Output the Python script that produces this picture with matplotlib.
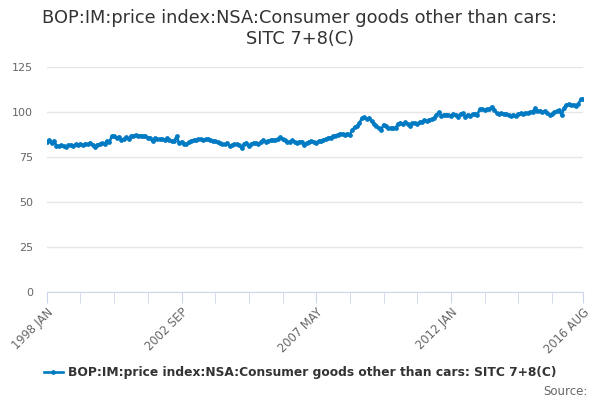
import numpy as np
import matplotlib
matplotlib.use('Agg')
import matplotlib.pyplot as plt

# monthly values, 1998 JAN .. 2016 AUG
values = [
    83.5, 84.5, 82.7, 84.0, 81.3, 81.2, 81.4, 81.0, 80.5, 81.6, 81.8, 81.2,   # 1998
    82.0, 81.5, 82.3, 81.6, 82.5, 82.0, 83.0, 81.8, 80.4, 81.8, 82.1, 82.6,   # 1999
    82.3, 84.0, 83.2, 86.5, 86.7, 85.5, 86.3, 84.6, 84.8, 86.0, 85.2, 86.4,   # 2000
    86.8, 87.2, 86.7, 86.9, 86.5, 86.7, 85.8, 85.5, 83.7, 85.5, 85.0, 84.8,   # 2001
    85.0, 84.4, 85.5, 84.6, 83.7, 84.0, 86.5, 82.6, 83.5, 82.4, 82.2, 83.2,   # 2002
    84.0, 84.2, 84.5, 84.8, 84.9, 84.6, 84.8, 85.0, 84.7, 84.0, 83.8, 83.2,   # 2003
    82.8, 82.2, 82.0, 82.6, 81.0, 81.5, 82.2, 82.0, 81.6, 79.8, 82.0, 83.0,   # 2004
    81.0, 82.0, 83.0, 82.6, 82.0, 83.5, 84.4, 83.5, 84.0, 84.4, 84.3, 84.5,   # 2005
    84.8, 86.0, 84.8, 84.2, 83.5, 83.5, 84.2, 83.5, 83.0, 83.5, 83.6, 81.6,   # 2006
    82.8, 83.5, 84.0, 83.2, 83.0, 83.8, 84.0, 84.5, 85.0, 85.6, 85.8, 86.5,   # 2007
    86.8, 87.5, 88.0, 87.8, 87.2, 88.0, 87.5, 90.0, 91.5, 92.0, 94.0, 96.5,   # 2008
    97.0, 96.0, 96.8, 95.0, 93.5, 92.0, 91.0, 90.0, 93.0, 92.0, 91.2, 91.0,   # 2009
    91.2, 91.0, 93.5, 94.0, 93.2, 94.2, 93.6, 92.5, 93.8, 94.0, 93.2, 94.5,   # 2010
    94.2, 95.5, 95.0, 95.8, 96.0, 96.5, 98.5, 99.8, 98.0, 98.5, 98.6, 98.4,   # 2011
    98.0, 98.8, 98.2, 97.5, 99.0, 99.2, 97.2, 98.5, 98.0, 98.8, 99.0, 98.6,   # 2012
    101.5, 101.8, 101.2, 101.6, 101.4, 103.0, 101.0, 99.5, 99.0, 99.2, 98.8, 99.0,  # 2013
    98.2, 98.0, 98.5, 98.0, 99.0, 99.2, 98.8, 99.5, 99.5, 100.0, 100.2, 102.0,  # 2014
    100.5, 100.8, 100.2, 100.5, 99.5, 98.5, 98.8, 99.8, 100.5, 101.0, 98.2, 102.0,  # 2015
    104.0, 104.2, 103.8, 104.0, 103.5, 104.5, 107.0, 107.2,   # 2016
]
tick_labels = ['1998 JAN', '2002 SEP', '2007 MAY', '2012 JAN', '2016 AUG']
y_ticks = [0, 25, 50, 75, 100, 125]
series_name = 'BOP:IM:price index:NSA:Consumer goods other than cars: SITC 7+8(C)'
title = 'BOP:IM:price index:NSA:Consumer goods other than cars:\nSITC 7+8(C)'

blue = '#007ac3'
x = np.arange(len(values))
n = len(values)

fig = plt.figure(figsize=(6, 4), dpi=100)
ax = fig.add_axes([0.078, 0.27, 0.894, 0.5625])

ax.plot(x, values, color=blue, lw=1.9, marker='o', ms=2.4, mec=blue, mfc=blue,
        label=series_name, zorder=3)

ax.set_xlim(0, n - 1)
ax.set_ylim(0, 125)
ax.set_yticks(y_ticks)
ax.yaxis.grid(True, color='#e6e6e6', lw=1)
ax.set_axisbelow(True)
ax.tick_params(axis='y', length=0, labelsize=8, labelcolor='#666666', pad=10)

minor = list(range(0, n - 1, 14)) + [n - 1]
major = [0, 56, 112, 168, n - 1]
ax.set_xticks(minor, minor=True)
ax.set_xticks(major)
ax.set_xticklabels(tick_labels, rotation=45, ha='right', rotation_mode='anchor',
                   fontsize=8.3, color='#666666')
ax.tick_params(axis='x', which='both', length=8, color='#ccd6eb', pad=2)

for side in ['left', 'right', 'top']:
    ax.spines[side].set_visible(False)
ax.spines['bottom'].set_color('#ccd6eb')

fig.text(0.5, 0.978, title, ha='center', va='top', fontsize=12.8, color='#333333',
         linespacing=1.2)

leg = fig.legend(*ax.get_legend_handles_labels(), loc='center', bbox_to_anchor=(0.5, 0.068),
                 frameon=False, handlelength=1.6, handletextpad=0.4,
                 prop={'size': 8.8, 'weight': 'bold'})
for t in leg.get_texts():
    t.set_color('#333333')

fig.text(0.98, 0.022, 'Source:', ha='right', va='center', fontsize=8.5, color='#666666')

fig.savefig('out.png', dpi=100)
